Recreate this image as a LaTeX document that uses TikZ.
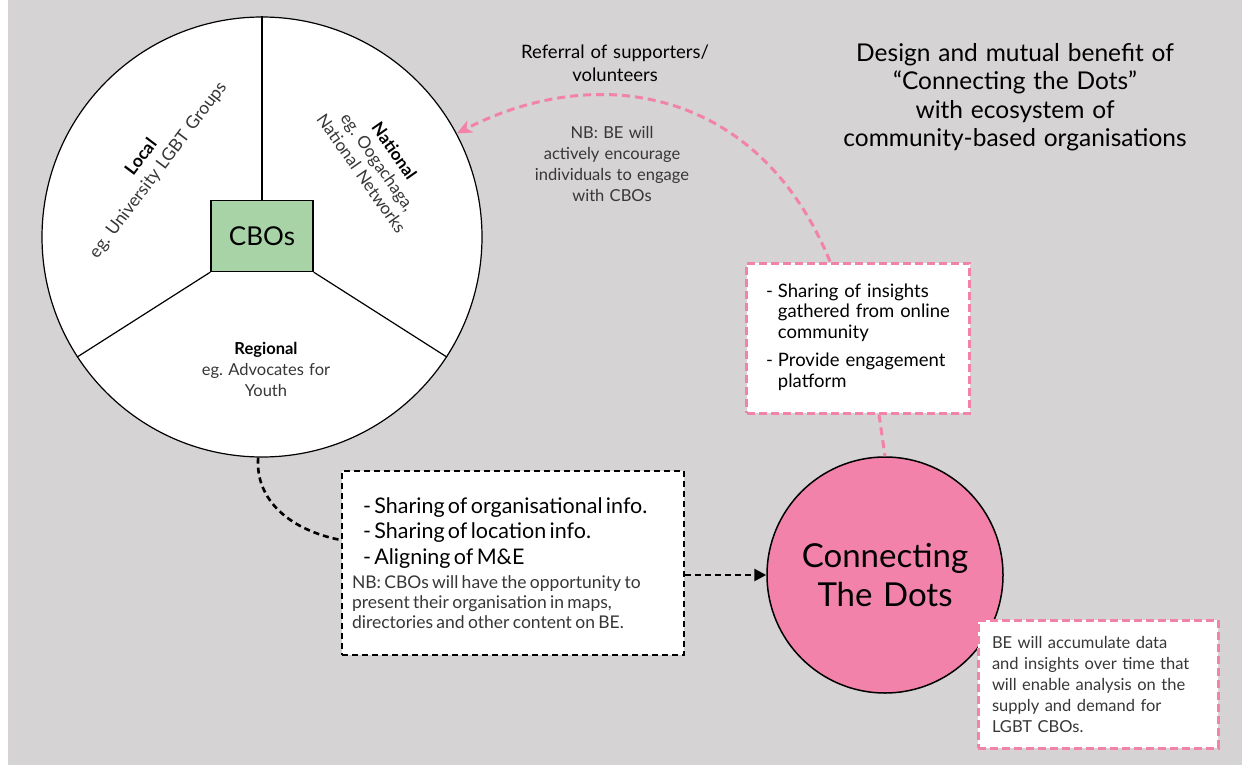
\documentclass[tikz,border=0pt]{standalone}
\usepackage{fontspec}
\setmainfont{Lato}[WordSpace=1.25]
\usepackage{tikz}
\usetikzlibrary{arrows.meta}
\definecolor{bggray}{RGB}{213,211,212}
\definecolor{cbogreen}{RGB}{168,211,167}
\definecolor{dotpink}{RGB}{242,130,169}
\definecolor{notegray}{RGB}{55,55,55}
\frenchspacing

\begin{document}
\begin{tikzpicture}[x=1pt,y=-1pt,
  pinkbox/.style={draw=dotpink,line width=3pt,dash pattern=on 8pt off 4pt,fill=white},
  blackbox/.style={draw=black,line width=2.6pt,dash pattern=on 6pt off 4pt,fill=white},
  pinklink/.style={draw=dotpink,line width=3pt,dash pattern=on 8pt off 5pt},
  blacklink/.style={draw=black,line width=2.6pt,dash pattern=on 6pt off 4pt},
  note/.style={text=notegray,font=\fontsize{16.5}{20}\selectfont},
  spoke/.style={line width=1.2pt}]
\useasboundingbox (0,0) rectangle (1242,765);
\fill[bggray] (8,0) rectangle (1242,765);

\node[circle,draw,fill=white,line width=1.2pt,minimum size=440pt,inner sep=0pt] (wheel) at (262,237) {};
\node[draw,fill=cbogreen,line width=1.2pt,minimum width=102pt,minimum height=71pt,font=\fontsize{26}{30}\selectfont] (cbo) at (262,236) {CBOs};
\draw[spoke] (cbo.north) -- (wheel.north);
\draw[spoke] (cbo.south west) -- (wheel.213);
\draw[spoke] (cbo.south east) -- (wheel.327);

\node[rotate=53,align=center,font=\fontsize{17.5}{21}\selectfont] (local) at (150,164) {\textbf{Local}\\ \textcolor{notegray}{eg. University LGBT Groups}};
\node[rotate=-55,align=center,font=\fontsize{17}{20}\selectfont] (national) at (378,162) {\textbf{National}\\ \textcolor{notegray}{eg. Oogachaga,}\\ \textcolor{notegray}{National Networks}};
\node[align=center,font=\fontsize{16.5}{21}\selectfont] (regional) at (266,369) {\textbf{Regional}\\ \textcolor{notegray}{eg. Advocates for}\\ \textcolor{notegray}{Youth}};

\node[align=center,font=\fontsize{18.5}{23}\selectfont] (referral) at (615,63) {Referral of supporters/\\ volunteers};
\node[note,align=center,font=\fontsize{16.5}{21}\selectfont] (nbrefer) at (612,164) {NB: BE will\\ actively encourage\\ individuals to engage\\ with CBOs};

\node[align=center,font=\fontsize{24.5}{28.5}\selectfont] (title) at (1015,97) {Design and mutual benefit of\\ ``Connecting the Dots''\\ with ecosystem of\\ community-based organisations};

\node[pinkbox,minimum width=223pt,minimum height=150pt,font=\fontsize{18.5}{20.5}\selectfont] (insights) at (858,338) {\begin{tabular}{@{}l@{\hspace{5pt}}l@{}}
-&Sharing of insights\\ &gathered from online\\ &community\\[8pt]
-&Provide engagement\\ &platform\end{tabular}};

\node[blackbox,minimum width=342pt,minimum height=184pt,text width=322pt] (data) at (513,563) {{\fontsize{21.5}{25.5}\selectfont\leftskip=11pt - Sharing of organisational info.\\ - Sharing of location info.\\ - Aligning of M\&E\par}\vspace{4pt}
{\color{notegray}\fontsize{17.5}{20}\selectfont NB: CBOs will have the opportunity to\\ present their organisation in maps,\\ directories and other content on BE.\par}};

\node[circle,draw,fill=dotpink,line width=1.5pt,minimum size=236pt,inner sep=0pt,align=center,font=\fontsize{33}{39}\selectfont] (ctd) at (885,575) {Connecting\\ The Dots};

\node[pinkbox,note,minimum width=240pt,minimum height=128pt,text width=212pt,align=left,font=\fontsize{16.5}{21}\selectfont] (trend) at (1098,684) {BE will accumulate data\\ and insights over time that\\ will enable analysis on the\\ supply and demand for\\ LGBT CBOs.};

\coordinate (referstart) at ([xshift=-28pt]insights.north);
\draw[pinklink,-{Stealth[length=15pt,width=13pt,inset=4pt]}] (referstart) .. controls (760,90) and (600,60) .. (wheel.28);
\draw[pinklink] ([xshift=21pt]insights.south) -- (ctd.north);
\draw[blacklink] (wheel.269) .. controls (255,500) and (290,530) .. ([yshift=23pt]data.west);
\draw[blacklink,-{Triangle[length=12pt,width=12pt]}] (data.east |- ctd) -- (ctd);
\end{tikzpicture}
\end{document}
